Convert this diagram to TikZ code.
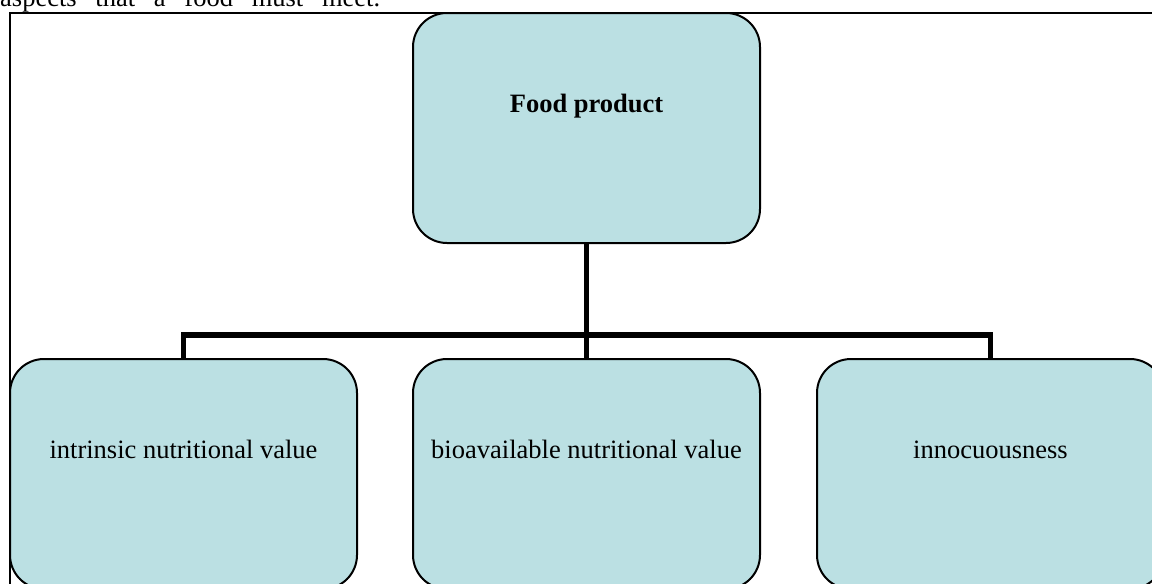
\documentclass[tikz,border=0pt]{standalone}
\usepackage{fontspec}
\setmainfont{Liberation Serif}
\definecolor{boxfill}{RGB}{187,224,227}
\tikzset{
  x=1pt, y=1pt,
  box/.style={draw=black, line width=2pt, fill=boxfill, rounded corners=34pt,
    rectangle, minimum width=347pt, minimum height=230pt, inner sep=0pt, outer sep=0pt},
  lbl/.style={inner sep=0pt, font=\fontsize{26.5}{30}\selectfont},
  conn/.style={line width=5.5pt, line join=miter, line cap=butt},
  frame/.style={draw=black, line width=2pt}
}
\begin{document}
\begin{tikzpicture}
\clip (0,0) rectangle (1152,-584);
\path[fill=white] (0,0) rectangle (1152,-584);
% cut-off caption line above the frame
\node[lbl, anchor=base west] (cap) at (0,-6) {\makebox[380pt][s]{aspects that a food must meet.}};
% frame
\draw[frame] (9.5,-12.5) rectangle (1250,-700);
% boxes
\node[box] (top) at (586.5,-128) {};
\node[box] (a) at (183.5,-474) {};
\node[box] (b) at (586.5,-474) {};
\node[box] (c) at (990.5,-474) {};
% texts
\node[lbl, anchor=base] (ttop) at ([yshift=-99pt]top.north) {\bfseries Food product};
\node[lbl, anchor=base] (ta) at ([yshift=-99pt]a.north) {intrinsic nutritional value};
\node[lbl, anchor=base] (tb) at ([yshift=-99pt]b.north) {bioavailable nutritional value};
\node[lbl, anchor=base] (tc) at ([yshift=-99pt]c.north) {innocuousness};
% connectors
\coordinate (bus) at (586.5,-335);
\draw[conn] (top.south) -- (bus);
\draw[conn] (a.north) |- (bus) -| (c.north);
\draw[conn] (bus) -- (b.north);
\end{tikzpicture}
\end{document}
